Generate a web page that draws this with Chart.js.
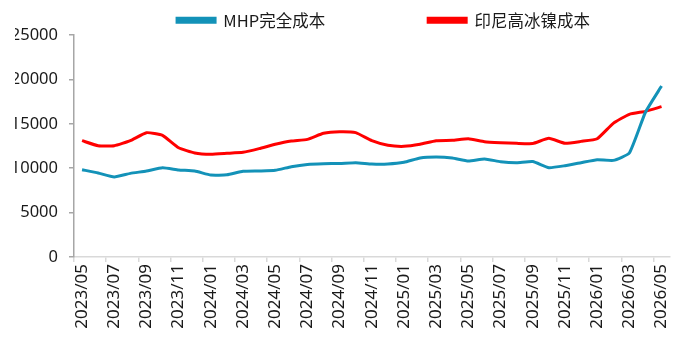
<!DOCTYPE html>
<html>
<head>
<meta charset="utf-8">
<script src="https://cdn.jsdelivr.net/npm/chart.js@4"></script>
<style>
  html, body { margin: 0; padding: 0; background: #fff; }
  #wrap { width: 684px; height: 344px; }
</style>
</head>
<body>
<div id="wrap"><canvas id="costChart"></canvas></div>
<script>
// Monthly categories 2023/05 .. 2026/05
const months = [
  "2023/05", "2023/06", "2023/07", "2023/08", "2023/09", "2023/10", "2023/11", "2023/12",
  "2024/01", "2024/02", "2024/03", "2024/04", "2024/05", "2024/06", "2024/07", "2024/08",
  "2024/09", "2024/10", "2024/11", "2024/12", "2025/01", "2025/02", "2025/03", "2025/04",
  "2025/05", "2025/06", "2025/07", "2025/08", "2025/09", "2025/10", "2025/11", "2025/12",
  "2026/01", "2026/02", "2026/03", "2026/04", "2026/05"
];

// MHP完全成本
const mhpCost = [
  9830, 9460, 9010, 9420, 9680, 10060, 9800, 9680,
  9230, 9250, 9650, 9690, 9760, 10170, 10430, 10510,
  10530, 10620, 10470, 10470, 10660, 11150, 11260, 11150,
  10810, 11040, 10730, 10620, 10750, 10060, 10280, 10620,
  10960, 10880, 11710, 16300, 19250
];

// 印尼高冰镍成本
const matteCost = [
  13100, 12530, 12530, 13100, 14000, 13700, 12300, 11710,
  11560, 11670, 11790, 12200, 12690, 13060, 13250, 13930,
  14110, 14000, 13100, 12580, 12460, 12690, 13100, 13140,
  13320, 12980, 12870, 12800, 12780, 13360, 12800, 13020,
  13320, 15050, 16070, 16400, 16930
];

const yTicks = [0, 5000, 10000, 15000, 20000, 25000];

const FONT = "'Noto Sans', 'Noto Sans CJK SC', sans-serif";
const CJK_FONT = "'Noto Sans CJK SC', 'Noto Sans', sans-serif";
const ITEM_GAP = 103;    // space between the two legend entries
const LEGEND_SHIFT = 36; // legend sits right of canvas centre
const LEGEND_TOP = 12;

// move the legend after layout so it lines up with the original
const legendNudge = {
  id: "legendNudge",
  afterLayout(chart) {
    const lg = chart.legend;
    lg.top = LEGEND_TOP - ITEM_GAP; // bottom stays where layout put it
    lg.left += LEGEND_SHIFT;
    lg.right += LEGEND_SHIFT;
  }
};

const ctx = document.getElementById("costChart").getContext("2d");

new Chart(ctx, {
  type: "line",
  data: {
    labels: months,
    datasets: [
      {
        label: "MHP完全成本",
        data: mhpCost,
        borderColor: "#1392b8",
        backgroundColor: "#1392b8",
        borderWidth: 3,
        pointRadius: 0,
        tension: 0.15,
      },
      {
        label: "印尼高冰镍成本",
        data: matteCost,
        borderColor: "#ff0000",
        backgroundColor: "#ff0000",
        borderWidth: 3,
        pointRadius: 0,
        tension: 0.15,
      },
    ],
  },
  options: {
    responsive: true,
    maintainAspectRatio: false,
    animation: false,
    layout: { padding: { left: 15, right: 4, top: 0, bottom: 0 } },
    plugins: {
      legend: {
        position: "top",
        maxHeight: 35,
        labels: {
          boxWidth: 38,
          boxHeight: 4,
          padding: ITEM_GAP,
          color: "#1a1a1a",
          font: { family: CJK_FONT, size: 16.5 },
        },
      },
      tooltip: { enabled: false },
    },
    scales: {
      x: {
        offset: true,
        afterFit: (s) => { s.height = 87; },
        border: { color: "#d9d9d9", width: 1.5 },
        grid: {
          offset: true,
          drawOnChartArea: false,
          tickLength: 5,
          lineWidth: 1.5,
          color: (c) => (c.index % 2 === 0 ? "#d9d9d9" : "rgba(0,0,0,0)"),
        },
        ticks: {
          autoSkip: false,
          minRotation: 90,
          maxRotation: 90,
          padding: 2,
          color: "#1a1a1a",
          font: { family: FONT, size: 17 },
          callback: function (val, i) {
            return i % 2 === 0 ? this.getLabelForValue(val) : "";
          },
        },
      },
      y: {
        min: yTicks[0],
        max: yTicks[yTicks.length - 1],
        afterFit: (s) => { s.width = 59; },
        border: { color: "#a6a6a6", width: 1.5 },
        grid: {
          drawOnChartArea: false,
          tickLength: 5,
          lineWidth: 1.5,
          color: "#a6a6a6",
        },
        ticks: {
          stepSize: 5000,
          padding: 11,
          color: "#1a1a1a",
          font: { family: FONT, size: 16.5 },
          callback: (v) => String(v),
        },
      },
    },
  },
  plugins: [legendNudge],
});
</script>
</body>
</html>
